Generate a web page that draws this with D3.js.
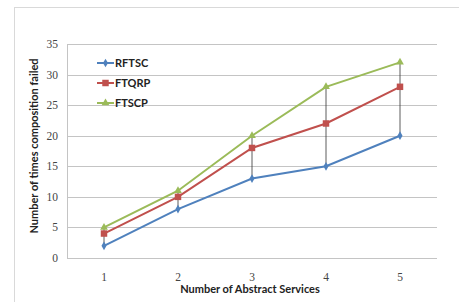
<!DOCTYPE html>
<html>
<head>
<meta charset="utf-8">
<script src="https://cdn.jsdelivr.net/npm/d3@7"></script>
<style>
  body { margin: 0; background: #fff; }
  svg text { font-family: "Liberation Serif", "DejaVu Serif", serif; }
  .bold { font-family: Lato, "Open Sans", sans-serif; font-weight: bold; }
</style>
</head>
<body>
<div id="chart"></div>
<script>
// data
var categories = [1, 2, 3, 4, 5]
var rftsc = [2, 8, 13, 15, 20]
var ftqrp = [4, 10, 18, 22, 28]
var ftscp = [5, 11, 20, 28, 32]
var yTicks = [0, 5, 10, 15, 20, 25, 30, 35]
var seriesNames = ["RFTSC", "FTQRP", "FTSCP"]

var width = 459, height = 302
var svg = d3.select('#chart').append('svg')
    .attr('width', width).attr('height', height)

// outer chart border
svg.append('rect')
    .attr('x', 14.5).attr('y', 7.5)
    .attr('width', 470).attr('height', 320)
    .attr('fill', 'none').attr('stroke', '#d9d9d9')

// plot area (don't call it "top" - window.top is read only)
var plotLeft = 67, plotRight = 437, plotTop = 44, plotBottom = 258

var x = d3.scalePoint().domain(categories).range([plotLeft, plotRight]).padding(0.5)
var y = d3.scaleLinear().domain([0, 35]).range([plotBottom, plotTop])

// gridlines
svg.append('g').selectAll('line')
    .data(yTicks).enter().append('line')
    .attr('x1', plotLeft).attr('x2', plotRight)
    .attr('y1', function(d) { return Math.round(y(d)) + 0.5 })
    .attr('y2', function(d) { return Math.round(y(d)) + 0.5 })
    .attr('stroke', '#c4c4c4').attr('stroke-width', 1)

// y axis line
svg.append('line')
    .attr('x1', plotLeft + 0.5).attr('x2', plotLeft + 0.5)
    .attr('y1', plotTop).attr('y2', plotBottom)
    .attr('stroke', '#c4c4c4')

// y tick labels
svg.append('g').selectAll('text')
    .data(yTicks).enter().append('text')
    .attr('x', plotLeft - 9).attr('y', function(d) { return y(d) + 4 })
    .attr('text-anchor', 'end')
    .attr('font-size', 11.5).attr('fill', '#444')
    .text(function(d) { return d })

// x tick labels
svg.append('g').selectAll('text')
    .data(categories).enter().append('text')
    .attr('x', function(d) { return x(d) }).attr('y', 281)
    .attr('text-anchor', 'middle')
    .attr('font-size', 11.5).attr('fill', '#444')
    .text(function(d) { return d })

// axis titles
svg.append('text').attr('class', 'bold')
    .attr('x', 250).attr('y', 293)
    .attr('text-anchor', 'middle').attr('font-size', 11).attr('fill', '#222')
    .text('Number of Abstract Services')

svg.append('text').attr('class', 'bold')
    .attr('transform', 'translate(38,146) rotate(-90)')
    .attr('text-anchor', 'middle').attr('font-size', 11).attr('fill', '#222')
    .text('Number of times composition failed')

// high-low drop lines
svg.append('g').selectAll('line')
    .data(categories).enter().append('line')
    .attr('x1', function(d) { return x(d) }).attr('x2', function(d) { return x(d) })
    .attr('y1', function(d, i) { return y(Math.max(rftsc[i], ftqrp[i], ftscp[i])) })
    .attr('y2', function(d, i) { return y(Math.min(rftsc[i], ftqrp[i], ftscp[i])) })
    .attr('stroke', '#333').attr('stroke-width', 0.8)

var series = [
    { name: seriesNames[0], values: rftsc, color: '#4F81BD', marker: d3.symbolDiamond, size: 22 },
    { name: seriesNames[1], values: ftqrp, color: '#C0504D', marker: d3.symbolSquare, size: 42 },
    { name: seriesNames[2], values: ftscp, color: '#9BBB59', marker: d3.symbolTriangle, size: 26 }
]

var line = d3.line()
    .x(function(d, i) { return x(categories[i]) })
    .y(function(d) { return y(d) })

series.forEach(function(s) {
    svg.append('path')
        .attr('d', line(s.values))
        .attr('fill', 'none').attr('stroke', s.color).attr('stroke-width', 2)

    svg.append('g').selectAll('path')
        .data(s.values).enter().append('path')
        .attr('d', d3.symbol().type(s.marker).size(s.size))
        .attr('transform', function(d, i) { return 'translate(' + x(categories[i]) + ',' + y(d) + ')' })
        .attr('fill', s.color)
})

// legend
var legend = svg.append('g')
series.forEach(function(s, i) {
    var ly = 63 + i * 20
    legend.append('line')
        .attr('x1', 97).attr('x2', 114).attr('y1', ly).attr('y2', ly)
        .attr('stroke', s.color).attr('stroke-width', 2)
    legend.append('path')
        .attr('d', d3.symbol().type(s.marker).size(s.size))
        .attr('transform', 'translate(105.5,' + ly + ')')
        .attr('fill', s.color)
    legend.append('text').attr('class', 'bold')
        .attr('x', 115).attr('y', ly + 4)
        .attr('font-size', 11).attr('fill', '#222')
        .text(s.name)
})
</script>
</body>
</html>
